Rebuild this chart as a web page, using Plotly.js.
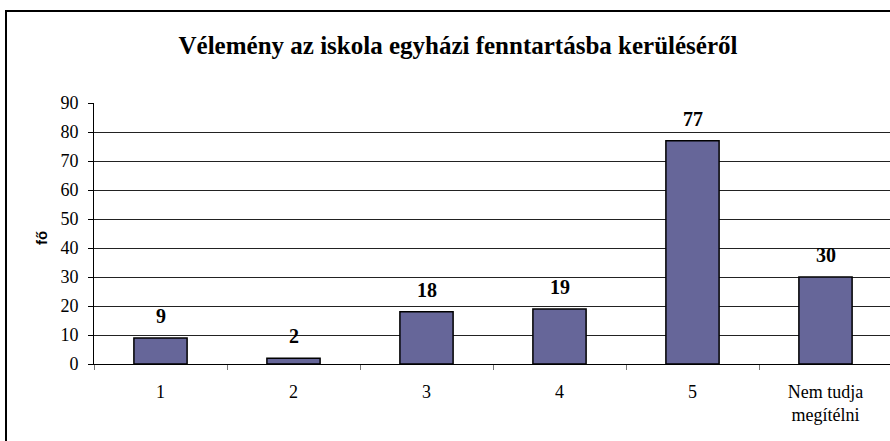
<!DOCTYPE html>
<html>
<head>
<meta charset="utf-8">
<script src="https://cdn.plot.ly/plotly-3.0.1.min.js"></script>
<style>
html, body { margin: 0; padding: 0; overflow: hidden; background: #fff; }
#chart { width: 895px; height: 441px; }
</style>
</head>
<body>
<div id="chart"></div>
<script>
const categories = ["1", "2", "3", "4", "5", "Nem tudja<br>megítélni"];
const values = [9, 2, 18, 19, 77, 30];
const yTicks = [0, 10, 20, 30, 40, 50, 60, 70, 80, 90];
const chartTitle = "Vélemény az iskola egyházi fenntartásba kerüléséről";
const yTitle = "fő";

const serif = "'Times New Roman', 'Liberation Serif', 'DejaVu Serif', serif";

const trace = {
  type: "bar",
  x: categories,
  y: values,
  width: 0.4,
  marker: { color: "#666699", line: { color: "#000", width: 1.5 } },
  hoverinfo: "skip"
};

const labelAnnotations = values.map((v, i) => ({
  x: i, y: v, xref: "x", yref: "y",
  text: "<b>" + v + "</b>",
  showarrow: false,
  yanchor: "bottom",
  yshift: 9,
  font: { family: serif, size: 20, color: "#000" }
}));

const layout = {
  width: 895,
  height: 441,
  margin: { l: 94, r: 3, t: 103, b: 77 },
  paper_bgcolor: "#fff",
  plot_bgcolor: "#fff",
  showlegend: false,
  font: { family: serif, size: 18, color: "#000" },
  title: {
    text: "<b>" + chartTitle + "</b>",
    x: 458 / 895, xref: "container", xanchor: "center",
    y: 1 - 45 / 441, yref: "container", yanchor: "middle",
    font: { family: serif, size: 25, color: "#000" }
  },
  xaxis: {
    type: "category",
    range: [-0.5, 5.5],
    showline: true, linecolor: "#000", linewidth: 1,
    ticks: "outside", ticklen: 5, tickcolor: "#777", tickson: "boundaries",
    ticklabelstandoff: 11,
    tickfont: { family: serif, size: 18, color: "#000" },
    showgrid: false, zeroline: false, fixedrange: true
  },
  yaxis: {
    range: [0, 90],
    tickvals: yTicks,
    showline: true, linecolor: "#000", linewidth: 1,
    ticks: "outside", ticklen: 5, tickcolor: "#000",
    ticklabelstandoff: 6,
    tickfont: { family: serif, size: 18, color: "#000" },
    showgrid: true, gridcolor: "#222", gridwidth: 1,
    zeroline: false, fixedrange: true
  },
  annotations: labelAnnotations.concat([{
    text: "<b>" + yTitle + "</b>",
    xref: "paper", yref: "paper",
    x: (42 - 94) / 798, y: (364 - 238) / 261,
    xanchor: "center", yanchor: "middle",
    textangle: -90, showarrow: false,
    font: { family: "Arial, 'Liberation Sans', sans-serif", size: 15, color: "#000" }
  }]),
  shapes: [{
    type: "rect", xref: "paper", yref: "paper",
    x0: (6 - 94) / 798, x1: 1.2,
    y0: -0.5, y1: (364 - 11) / 261,
    line: { color: "#000", width: 2 },
    fillcolor: "rgba(0,0,0,0)"
  }]
};

Plotly.newPlot("chart", [trace], layout, { staticPlot: true, displayModeBar: false });
</script>
</body>
</html>
